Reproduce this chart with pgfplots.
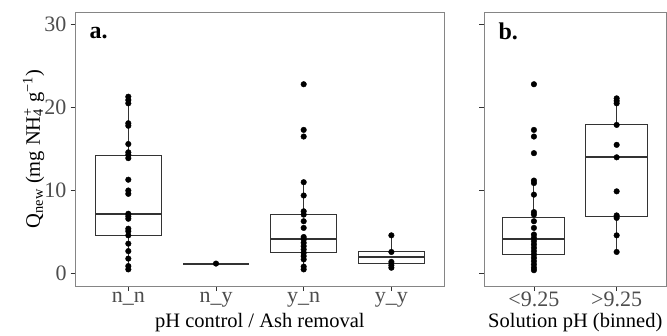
\documentclass[border=0pt]{standalone}
\usepackage{fontspec}
\setmainfont{Liberation Serif}
\usepackage{pgfplots}
\pgfplotsset{compat=1.18}
\usepgfplotslibrary{statistics}

\definecolor{boxc}{HTML}{333333}
\definecolor{framec}{HTML}{858585}
\definecolor{tickc}{HTML}{4D4D4D}

\pgfplotsset{
  common/.style={
    scale only axis,
    height=274pt,
    ymin=-1.5, ymax=31.5,
    ytick={0,10,20,30},
    axis line style={framec, line width=0.9pt},
    tick align=outside,
    major tick length=5pt,
    tick pos=left,
    tick style={boxc, line width=0.8pt},
    ticklabel style={font=\fontsize{22}{24}\selectfont, text=tickc},
    /pgf/number format/assume math mode=true,
    label style={font=\fontsize{20.5}{22}\selectfont},
    xticklabel style={inner sep=1pt},
    yticklabel style={inner sep=0pt, xshift=-4pt},
    xlabel style={inner sep=0pt, yshift=-5pt},
    boxplot/draw direction=y,
    boxplot/whisker extend=0,
    boxplot/box extend=0.75,
    boxplot/every box/.style={draw=boxc, line width=1pt},
    boxplot/every whisker/.style={draw=boxc, line width=1pt},
    boxplot/every median/.style={draw=boxc, line width=2pt},
  },
  pts/.style={only marks, mark=*, mark size=2.8pt, black},
}

\begin{document}
\begin{tikzpicture}
\useasboundingbox (0,0) rectangle (667pt,335pt);

\begin{axis}[common,
  at={(75.7pt,49pt)}, anchor=south west,
  width=368.3pt,
  xmin=0.4, xmax=4.6,
  xtick={1,2,3,4},
  xticklabels={n\_n, n\_y, y\_n, y\_y},
  xlabel={pH control / Ash removal},
  ylabel={Q\textsubscript{new} (mg NH\rlap{\textsubscript{4}}\textsuperscript{+} g\textsuperscript{−1})},
  ylabel style={inner sep=0pt, yshift=0pt},
]
\addplot[boxplot prepared={draw position=1, median=7.2, upper quartile=14.2, lower quartile=4.6, upper whisker=21.3, lower whisker=0.5}] coordinates {};
\addplot[boxplot prepared={draw position=2, median=1.2, upper quartile=1.2, lower quartile=1.2, upper whisker=1.2, lower whisker=1.2}] coordinates {};
\addplot[boxplot prepared={draw position=3, median=4.15, upper quartile=7.1, lower quartile=2.5, upper whisker=11.0, lower whisker=0.5}] coordinates {};
\addplot[boxplot prepared={draw position=4, median=2.0, upper quartile=2.6, lower quartile=1.24, upper whisker=4.6, lower whisker=0.7}] coordinates {};

\addplot[pts] coordinates {
(1,21.3) (1,20.9) (1,20.5) (1,18.1) (1,17.8) (1,15.6) (1,14.6) (1,14.3) (1,13.9)
(1,11.3) (1,10.0) (1,9.6) (1,7.2) (1,6.9) (1,6.6) (1,5.4) (1,5.1) (1,4.6)
(1,3.6) (1,2.7) (1,1.8) (1,0.9) (1,0.5)
(2,1.2)
(3,22.8) (3,17.3) (3,16.5) (3,11.0) (3,9.4) (3,7.5) (3,7.1) (3,6.3) (3,5.5)
(3,4.4) (3,4.1) (3,3.7) (3,3.3) (3,2.9) (3,2.5) (3,2.1) (3,1.7) (3,0.84) (3,0.5)
(4,4.6) (4,2.6) (4,1.4) (4,1.0) (4,0.7)
};
\node[anchor=base west, font=\fontsize{24}{24}\selectfont\bfseries] at (rel axis cs:0.028,0.905) {a.};
\end{axis}

\begin{axis}[common,
  at={(484.3pt,49pt)}, anchor=south west,
  width=182pt,
  xmin=0.4, xmax=2.6,
  xtick={1,2},
  xticklabels={<9.25, >9.25},
  yticklabels={},
  xlabel={Solution pH (binned)},
]
\addplot[boxplot prepared={draw position=1, median=4.15, upper quartile=6.8, lower quartile=2.3, upper whisker=11.2, lower whisker=0.4}] coordinates {};
\addplot[boxplot prepared={draw position=2, median=14.0, upper quartile=17.9, lower quartile=6.9, upper whisker=21.1, lower whisker=2.6}] coordinates {};

\addplot[pts] coordinates {
(1,22.8) (1,17.3) (1,16.5) (1,14.5) (1,11.2) (1,10.9) (1,9.5) (1,7.4) (1,7.1)
(1,6.3) (1,5.5) (1,4.7) (1,4.3) (1,3.9) (1,3.5) (1,3.1) (1,2.7) (1,2.3)
(1,1.9) (1,1.5) (1,1.1) (1,0.7) (1,0.4)
(2,21.1) (2,20.8) (2,20.5) (2,17.9) (2,15.5) (2,14.0) (2,9.9) (2,7.0) (2,6.7) (2,4.6) (2,2.6)
};
\node[anchor=base west, font=\fontsize{24}{24}\selectfont\bfseries] at (rel axis cs:0.059,0.901) {b.};
\end{axis}
\end{tikzpicture}
\end{document}
